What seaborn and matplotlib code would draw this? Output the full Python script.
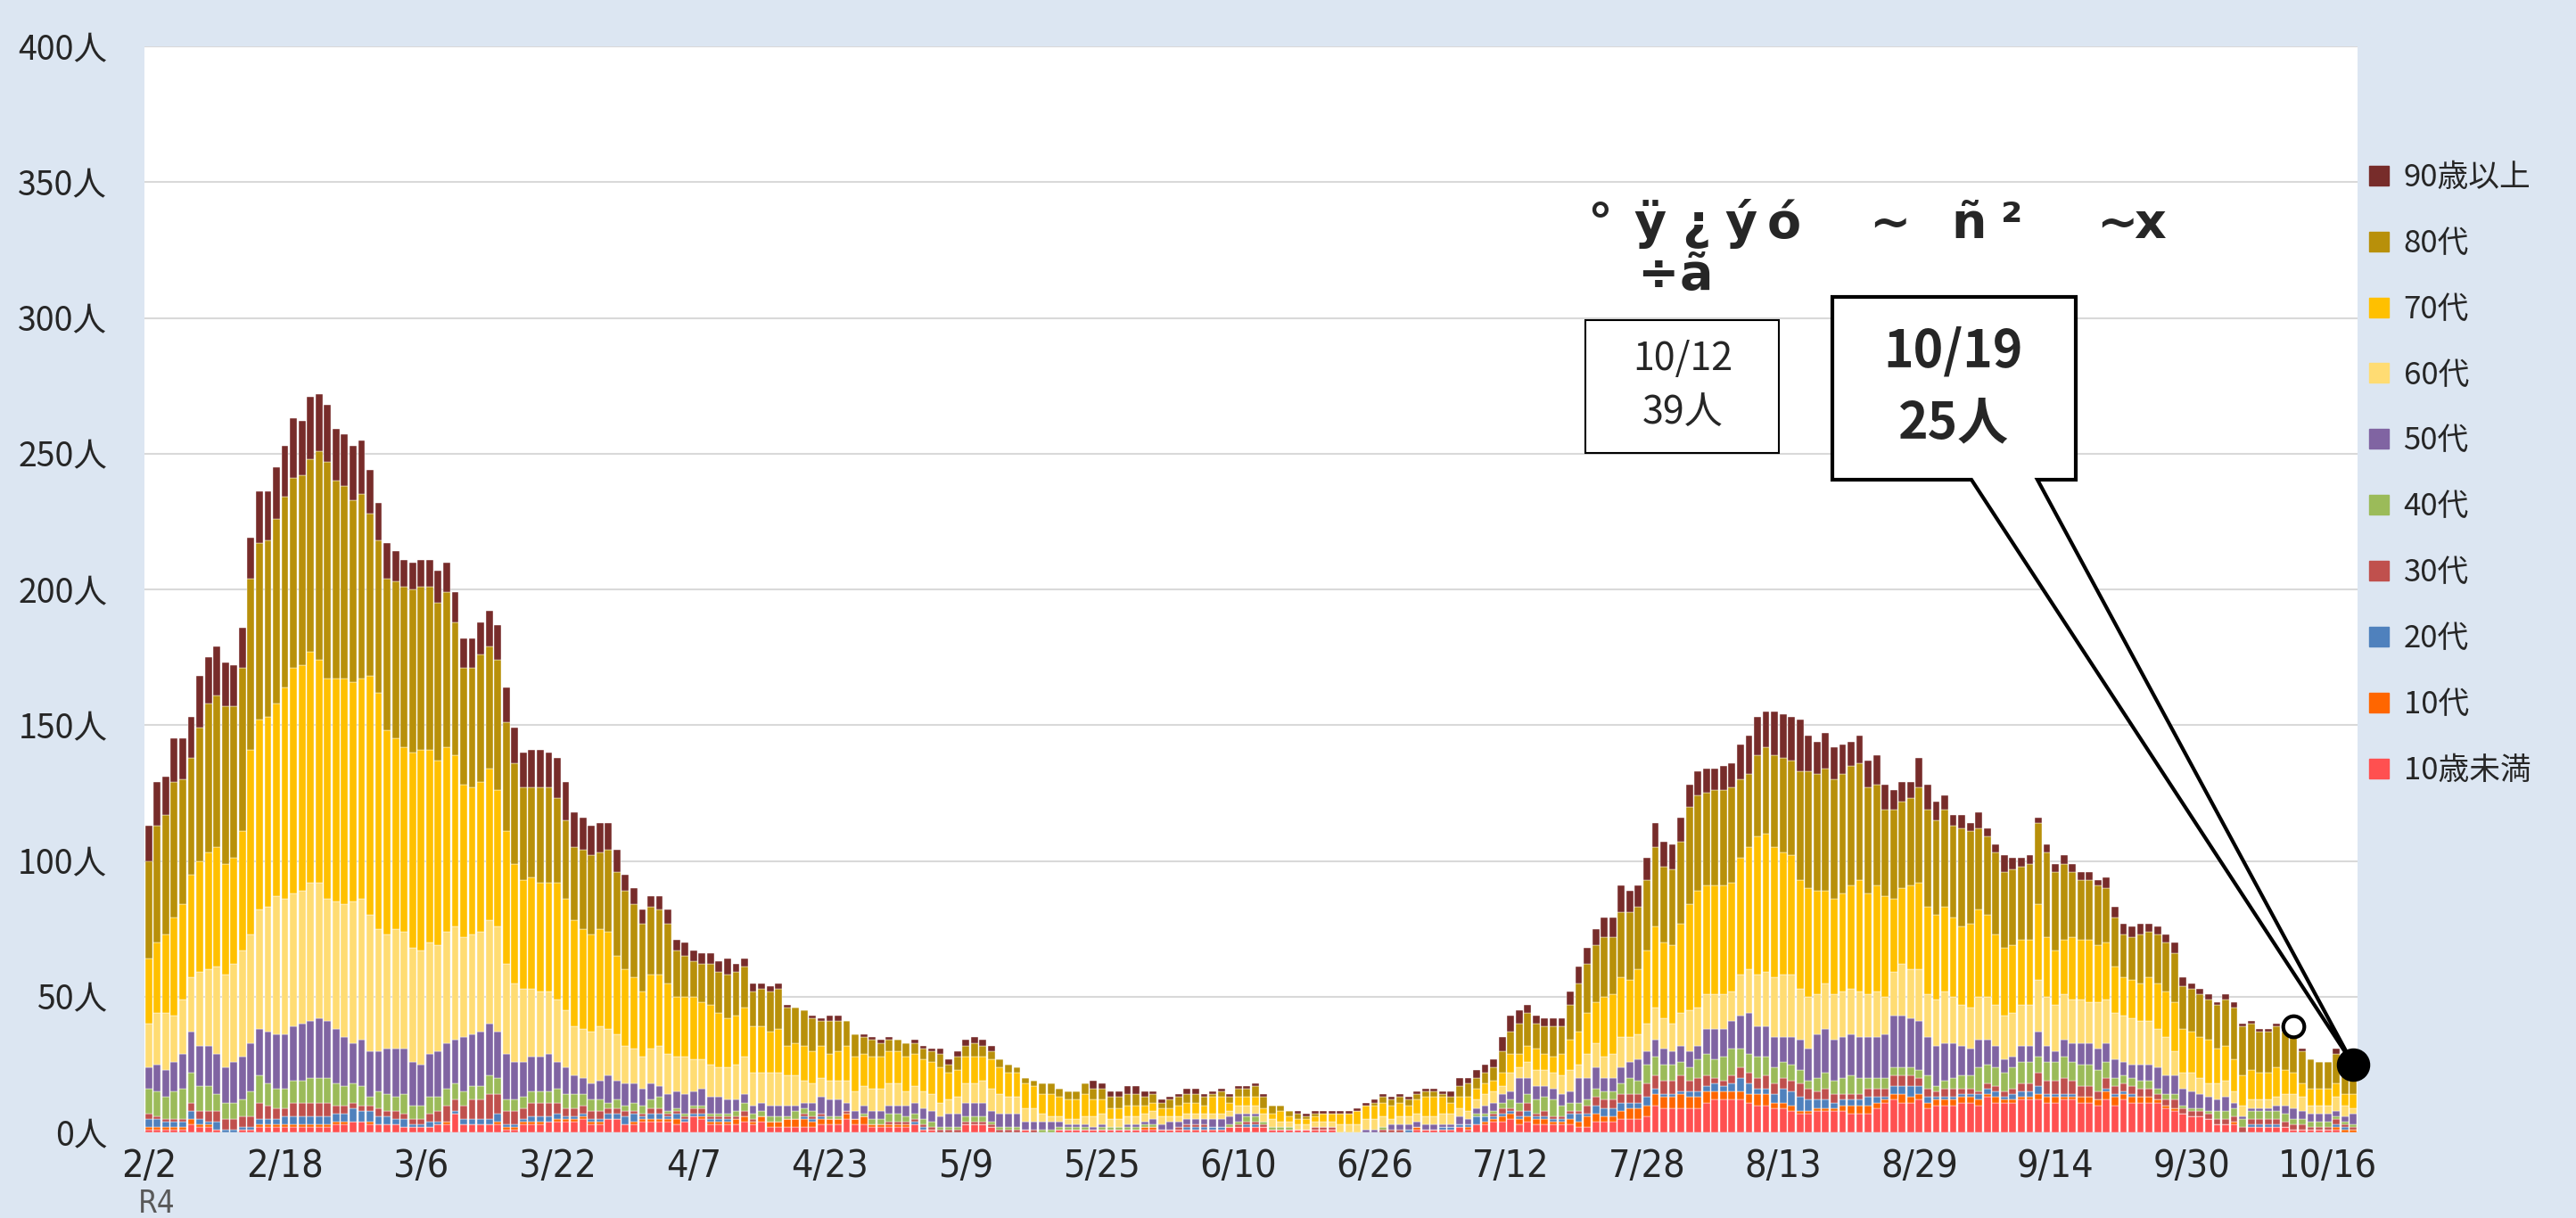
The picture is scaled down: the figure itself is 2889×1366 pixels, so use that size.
import numpy as np
import pandas as pd
import seaborn as sns
import matplotlib.pyplot as plt
from matplotlib import font_manager
from matplotlib.lines import Line2D
from matplotlib.patches import Polygon, Rectangle

# 2/2 (R4) .. 10/19, one bar per day
days = pd.date_range("2022-02-02", "2022-10-19", freq="D")
tick_labels = ["2/2", "2/18", "3/6", "3/22", "4/7", "4/23", "5/9", "5/25", "6/10",
               "6/26", "7/12", "7/28", "8/13", "8/29", "9/14", "9/30", "10/16"]
ytick_values = [0, 50, 100, 150, 200, 250, 300, 350, 400]

ages = ["90歳以上", "80代", "70代", "60代", "50代", "40代", "30代", "20代", "10代", "10歳未満"]
colors = ["#772C2A", "#B8900A", "#FFC000", "#FFDC73", "#8064A2",
          "#9BBB59", "#C0504D", "#4F81BD", "#FF6600", "#FF5050"]

u10 = [1,1,1,1,1,3,2,2,1,0,0,1,1,2,2,2,2,2,2,2,
       2,2,3,3,4,4,3,3,3,3,2,2,2,2,3,3,7,3,3,3,
       3,3,1,1,3,3,3,4,4,4,4,5,3,3,5,5,3,3,4,4,
       4,4,3,4,6,5,3,3,3,3,4,3,4,2,2,2,2,2,2,3,
       3,3,5,3,3,2,2,2,2,2,3,1,1,0,0,0,3,3,3,2,
       0,0,0,1,0,0,0,1,1,1,1,1,1,1,1,1,1,1,1,1,
       1,1,1,1,1,1,1,2,2,2,2,2,1,1,1,1,1,1,1,1,
       0,0,0,0,0,0,0,0,0,1,1,1,1,1,2,1,3,3,4,4,
       5,3,4,3,3,3,3,3,2,2,4,4,4,5,5,5,6,10,9,9,
       9,9,9,11,12,12,12,12,11,10,10,9,9,8,7,7,8,8,8,8,
       7,7,7,9,11,12,11,11,12,9,10,10,10,11,11,10,13,11,11,11,
       12,12,12,11,11,12,12,11,11,10,12,10,12,11,11,11,11,9,8,7,
       6,6,5,3,3,3,0,2,2,2,2,2,1,1,1,1,1,1,0,0]
s10 = [1,1,1,1,1,2,1,1,0,0,0,0,0,1,1,1,1,1,1,1,
       1,1,1,1,0,0,1,0,0,0,0,0,0,0,0,1,0,0,0,0,
       0,1,1,1,1,1,1,0,1,1,1,1,1,1,0,0,0,1,1,1,
       1,1,2,0,0,1,1,1,1,2,2,1,2,2,2,3,3,3,2,2,
       2,2,2,2,3,1,1,1,1,1,0,0,0,0,0,0,0,0,0,0,
       0,0,0,0,0,0,0,0,0,0,0,0,0,0,0,0,0,1,1,0,
       0,0,0,0,0,0,0,0,0,0,0,0,0,0,0,0,0,0,0,0,
       0,0,0,0,0,0,0,0,0,1,0,0,0,0,0,1,0,1,1,2,
       2,2,2,2,2,1,1,2,2,4,3,2,2,3,4,4,4,4,4,4,
       5,4,4,4,3,3,3,3,3,4,4,2,2,2,1,1,1,1,1,2,
       3,3,3,2,1,2,3,2,2,2,2,2,2,2,2,2,1,2,1,1,
       1,1,2,2,2,1,1,2,2,2,3,3,2,2,2,2,1,1,1,0,
       0,0,0,0,0,1,0,0,0,0,0,0,0,0,0,0,0,1,1,1]
s20 = [3,3,2,2,2,3,2,1,3,1,1,1,1,2,2,2,3,3,3,3,
       3,3,3,3,5,4,4,3,3,2,3,1,1,2,1,0,1,2,2,2,
       2,3,1,1,1,2,2,2,2,1,1,1,1,1,2,2,3,3,1,2,
       2,1,2,1,1,1,1,1,1,0,0,0,0,0,0,0,0,1,1,1,
       0,0,0,0,0,0,0,0,0,0,1,1,0,0,0,0,0,0,0,0,
       0,0,0,0,0,0,0,0,0,0,0,0,0,0,0,0,0,0,0,0,
       0,0,1,1,1,1,1,0,0,1,1,0,0,0,0,0,0,0,0,0,
       0,0,0,0,0,0,0,0,1,0,0,0,1,1,1,1,3,2,1,1,
       1,1,2,1,1,1,1,2,3,1,3,3,3,3,2,2,3,2,1,1,
       1,2,2,2,3,2,3,5,4,2,2,3,5,5,5,4,3,3,2,2,
       2,2,3,2,1,3,3,4,3,2,1,1,1,1,1,2,2,2,1,2,
       2,2,3,1,1,1,1,0,0,0,1,1,1,1,0,0,0,0,0,0,
       0,0,0,0,0,0,0,1,1,1,1,0,0,0,0,0,0,1,1,0]
s30 = [2,1,1,1,1,3,3,4,4,4,4,4,4,6,5,4,3,5,5,5,
       5,5,3,3,2,2,2,3,2,3,2,2,2,3,4,6,4,5,7,7,
       9,7,5,5,4,5,5,5,4,3,3,3,3,3,2,2,2,1,1,2,
       2,1,1,1,2,2,1,1,1,1,2,1,0,0,0,0,0,1,1,1,
       0,0,1,0,0,0,0,1,1,1,1,1,1,1,1,1,1,1,1,1,
       1,1,1,0,1,0,0,0,0,0,0,0,0,0,0,0,0,0,0,0,
       0,1,1,1,1,0,0,0,1,1,1,1,0,0,0,0,0,1,1,1,
       0,0,0,0,0,1,1,1,0,0,0,0,0,0,0,0,0,0,1,2,
       1,2,3,1,2,1,1,1,1,3,3,3,3,3,3,3,5,5,5,5,
       6,4,5,4,2,2,3,4,4,4,5,4,4,4,5,4,3,4,3,2,
       2,2,3,3,3,4,4,4,3,3,2,3,3,2,2,1,2,2,2,2,
       3,3,5,5,5,6,5,4,4,3,4,3,3,3,3,3,2,2,3,2,
       2,2,2,2,2,2,2,2,2,2,2,2,2,2,1,1,1,2,1,1]
s40 = [9,9,8,10,11,11,9,9,6,6,6,6,9,10,8,7,7,8,8,9,
       9,9,8,7,7,7,3,6,6,5,7,5,5,6,5,6,6,5,5,5,
       7,6,4,4,4,4,4,4,5,5,5,4,4,4,2,3,2,3,3,3,
       4,1,1,1,1,1,1,1,1,2,3,2,2,2,2,1,3,2,2,0,
       1,1,0,0,1,2,2,3,3,2,2,2,2,1,1,1,2,2,2,1,
       1,1,1,0,0,1,1,1,1,1,1,0,1,1,1,1,1,1,1,0,
       0,0,0,0,0,0,0,1,1,2,2,1,1,1,1,0,0,0,0,0,
       0,0,0,0,0,1,0,0,0,0,0,0,0,0,0,0,1,1,1,2,
       3,3,3,5,5,6,4,3,3,2,3,3,3,4,6,5,7,7,6,6,
       5,5,7,8,7,9,10,7,7,8,7,6,6,6,5,3,5,6,5,6,
       7,6,4,4,4,3,3,3,3,5,2,3,4,5,5,9,7,7,7,8,
       8,8,6,7,7,8,7,8,8,8,6,3,3,3,3,3,2,2,2,1,
       1,1,1,3,3,3,3,3,3,3,3,3,2,2,2,2,2,1,1,1]
s50 = [8,10,10,11,13,15,15,15,15,13,15,16,18,17,19,20,20,20,21,21,
       22,21,20,18,15,17,17,15,17,18,17,16,15,16,17,17,16,20,19,20,
       19,17,17,14,13,13,13,14,10,10,7,6,6,7,10,7,8,7,6,6,
       4,6,6,7,5,6,6,6,5,4,3,3,3,4,4,4,2,2,3,6,
       6,6,3,3,3,3,3,3,3,4,4,4,4,4,5,5,5,5,5,4,
       5,5,5,3,3,3,3,2,1,1,1,1,1,0,0,1,1,1,2,2,
       3,2,2,2,2,3,3,3,3,1,1,0,0,0,0,0,0,0,0,0,
       0,0,0,1,1,0,2,2,2,2,2,2,1,1,3,2,2,3,3,3,
       3,9,6,5,4,4,4,4,9,8,8,5,5,6,6,8,5,6,6,5,
       6,6,5,9,11,10,10,12,15,11,11,11,9,10,11,12,16,16,15,15,
       15,15,15,15,16,19,19,18,18,14,15,14,13,11,10,10,9,8,5,4,
       6,6,9,6,4,6,7,8,8,8,7,7,5,5,6,6,8,7,7,6,
       6,5,5,4,5,2,1,1,1,1,2,3,4,3,3,3,3,2,2,4]
s60 = [16,19,21,17,20,20,27,28,32,34,36,39,40,44,46,51,50,49,49,51,
       50,45,47,49,52,52,50,45,42,44,43,42,42,41,39,41,42,37,37,37,
       38,39,33,29,27,25,24,23,23,21,18,18,19,20,17,17,14,13,12,13,
       15,15,13,14,12,11,12,11,12,13,14,12,11,12,12,11,11,8,7,7,
       7,7,8,7,7,8,8,8,8,5,6,6,6,5,5,6,7,7,8,8,
       7,6,6,5,5,3,2,2,2,2,3,4,4,3,3,3,3,3,3,3,
       2,2,2,2,2,2,2,2,3,3,3,3,3,2,2,2,2,2,2,2,
       3,3,3,4,4,4,2,3,3,3,3,3,4,4,3,3,3,4,4,3,
       7,4,6,6,6,6,7,8,5,9,9,8,9,11,9,9,10,12,11,10,
       12,15,14,13,13,13,11,15,16,19,20,22,23,23,19,19,15,17,17,17,
       17,17,16,17,14,16,19,18,19,16,17,19,17,15,15,16,16,15,16,16,
       15,15,19,18,17,17,16,16,15,17,16,17,17,17,16,16,14,14,9,6,
       7,6,5,6,6,4,4,3,3,3,3,4,5,5,3,3,3,5,4,2]
s70 = [24,26,29,36,35,38,41,43,44,41,39,44,68,70,70,71,78,83,83,85,
       82,81,82,83,81,81,88,87,75,70,68,72,74,71,68,68,63,56,54,55,
       56,50,49,44,40,41,40,40,43,41,39,37,36,36,36,29,28,26,24,27,
       26,26,22,22,23,21,22,20,18,18,18,17,17,15,16,11,12,13,12,12,
       10,11,13,13,12,12,12,12,12,13,12,12,12,13,10,10,10,10,9,11,
       10,9,9,9,8,7,8,7,7,7,8,6,5,4,4,4,4,3,3,3,
       3,4,4,4,3,6,6,3,3,3,3,2,2,4,2,2,2,2,3,3,
       4,4,5,5,5,5,5,5,4,5,7,7,6,4,4,5,4,4,4,5,
       7,5,6,8,6,6,8,11,12,15,15,22,22,22,21,24,27,30,28,29,
       33,39,43,40,40,40,40,43,45,51,51,48,45,44,40,40,38,34,35,36,
       38,41,37,39,37,27,28,31,32,32,31,31,29,29,31,32,30,26,25,25,
       24,24,28,22,20,20,23,22,23,21,21,17,14,14,14,16,17,17,18,16,
       15,15,16,13,13,12,11,11,10,10,11,9,8,5,6,6,6,5,4,5]
s80 = [36,43,44,50,46,43,49,55,56,58,56,60,63,65,65,68,70,70,70,71,
       77,80,73,71,67,68,60,56,56,58,59,60,60,60,58,57,49,43,44,47,
       45,48,40,37,34,33,35,35,31,29,27,29,29,28,30,31,29,27,25,25,
       24,22,17,15,13,14,15,15,16,16,15,13,14,15,15,14,13,13,12,9,
       12,11,9,8,6,6,5,4,4,5,4,4,4,5,3,5,4,5,4,3,
       3,3,2,2,2,4,4,3,3,3,4,4,4,4,4,4,4,3,3,2,
       3,3,3,3,3,1,2,2,3,3,4,4,3,2,2,2,1,1,0,0,
       0,0,0,0,1,2,2,2,2,2,2,2,1,2,4,5,4,4,5,8,
       8,11,12,9,10,11,10,13,18,18,21,22,21,24,25,23,26,29,28,28,
       30,36,35,34,35,35,35,29,27,30,32,34,35,35,40,43,43,45,44,44,
       44,43,39,37,32,33,32,32,35,36,35,36,34,36,34,30,29,30,28,28,
       27,28,30,31,29,28,24,22,22,22,20,18,16,16,18,17,18,18,18,16,
       16,16,15,16,17,19,18,17,15,15,15,14,15,12,11,10,10,11,11,11]
o90 = [13,16,14,16,15,15,19,17,18,16,15,15,15,19,18,19,19,22,20,23,
       21,21,19,19,20,20,16,14,13,11,10,10,10,10,12,11,11,11,11,12,
       13,13,13,13,13,14,14,13,15,14,13,12,11,11,10,8,6,6,5,4,
       5,5,4,5,4,4,4,4,6,3,3,3,2,2,2,1,0,0,1,1,
       2,2,0,0,1,1,1,1,0,0,1,1,1,2,2,2,2,2,2,2,
       0,0,0,0,0,0,0,0,0,0,0,3,2,2,2,3,3,2,1,1,
       1,1,2,2,1,1,1,1,1,1,1,1,0,0,0,1,1,1,1,1,
       1,1,1,1,1,1,1,1,1,1,1,1,1,2,3,2,3,3,3,5,
       6,5,3,3,3,3,3,5,6,6,6,7,7,10,8,8,8,9,9,9,
       9,8,9,9,8,9,9,13,14,14,13,16,16,16,19,13,12,13,12,11,
       9,10,10,11,9,7,7,6,11,9,7,5,4,5,3,6,3,3,6,4,
       3,3,2,3,3,3,3,3,3,2,4,4,4,4,4,3,3,3,4,3,
       2,2,2,1,2,2,1,1,1,1,1,2,2,1,0,0,0,2,1,0]

series = dict(zip(ages, [o90, s80, s70, s60, s50, s40, s30, s20, s10, u10]))
n_days = len(days)
df = pd.DataFrame({
    "day": np.tile(np.arange(n_days), len(ages)),
    "age": np.repeat(ages, n_days),
    "n": np.concatenate([series[a] for a in ages]),
})
total = df.groupby("day")["n"].sum().to_numpy()

W, H = 2889, 1366
BG = "#DCE6F2"


def fig_xy(px, py):
    return px / W, 1 - py / H


sns.set_style("white")
plt.rcParams["font.family"] = ["Noto Sans CJK JP", "DejaVu Sans"]
names = {f.name for f in font_manager.fontManager.ttflist}
narrow = "Liberation Sans Narrow" if "Liberation Sans Narrow" in names else "DejaVu Sans"

fig = plt.figure(figsize=(W / 100, H / 100), dpi=100, facecolor=BG)
ax = fig.add_axes([162 / W, 1 - 1270 / H, (2644 - 162) / W, (1270 - 52) / H])
ax.set_facecolor("white")

sns.histplot(data=df, x="day", weights="n", hue="age", hue_order=ages,
             palette=dict(zip(ages, colors)), multiple="stack", discrete=True,
             shrink=0.82, alpha=1, edgecolor="white", linewidth=0.3,
             legend=False, ax=ax)

ax.set_xlim(-0.5, n_days - 0.5)
ax.set_ylim(0, 400)
ax.set_xlabel("")
ax.set_ylabel("")
ax.set_yticks(ytick_values)
ax.set_yticklabels([f"{v}人" for v in ytick_values], fontsize=27)
ax.set_xticks(np.arange(0, n_days, 16))
ax.set_xticklabels(tick_labels)
for t in ax.get_xticklabels():
    t.set_fontfamily(narrow)
    t.set_fontstretch("condensed")
    t.set_fontsize(31)
ax.tick_params(axis="y", length=0, pad=30)
ax.tick_params(axis="x", length=0, pad=12)
ax.yaxis.grid(True, color="#D9D9D9", lw=1.5)
ax.set_axisbelow(True)
for s in ax.spines.values():
    s.set_visible(False)

fig.text(*fig_xy(176, 1350), "R4", ha="center", va="center", fontsize=25,
         color="#595959", family=narrow, fontstretch="condensed")

# legend in the right margin
handles = [Line2D([], [], marker="s", ls="", color=c, markersize=16) for c in colors]
ax.legend(handles, ages, loc="upper left", bbox_to_anchor=fig_xy(2640, 168),
          bbox_transform=fig.transFigure, frameon=False, fontsize=25,
          labelspacing=1.12, handlelength=0.8, handletextpad=0.4, borderaxespad=0)

# garbled title, as drawn
title1 = [("°", 1780), ("ÿ", 1832), ("¿", 1886), ("ý", 1934), ("ó", 1982),
          ("~", 2096), ("ñ", 2188), ("²", 2244), ("~", 2351), ("x", 2393)]
for ch, px in title1:
    fig.text(*fig_xy(px, 267), ch, fontsize=40, fontweight="bold",
             family="DejaVu Sans", va="baseline", ha="left")
for ch, px in [("÷", 1836), ("ã", 1884)]:
    fig.text(*fig_xy(px, 324), ch, fontsize=40, fontweight="bold",
             family="DejaVu Sans", va="baseline", ha="left")

# 10/12 box and marker
x0, y0 = fig_xy(1778, 508)
fig.patches.append(Rectangle((x0, y0), 217 / W, 149 / H, transform=fig.transFigure,
                             fc="white", ec="black", lw=1.5, zorder=5))
fig.text(*fig_xy(1887, 403), "10/12", ha="center", va="center", fontsize=31, zorder=6)
fig.text(*fig_xy(1887, 463), "39人", ha="center", va="center", fontsize=31, zorder=6)
ax.plot(252, total[252], "o", ms=17, mfc="white", mec="black", mew=3, zorder=10)

# 10/19 callout
tip = fig.transFigure.inverted().transform(ax.transData.transform((n_days - 1, total[-1])))
pts = [fig_xy(2055, 333), fig_xy(2328, 333), fig_xy(2328, 538), fig_xy(2285, 538),
       tuple(tip), fig_xy(2211, 538), fig_xy(2055, 538)]
fig.patches.append(Polygon(pts, closed=True, transform=fig.transFigure, fc="white",
                           ec="black", lw=3, joinstyle="miter", zorder=5))
fig.text(*fig_xy(2191, 395), "10/19", ha="center", va="center", fontsize=41,
         fontweight="bold", zorder=6)
fig.text(*fig_xy(2191, 475), "25人", ha="center", va="center", fontsize=41,
         fontweight="bold", zorder=6)
ax.plot(n_days - 1, total[-1], "o", ms=26, color="black", zorder=10, clip_on=False)

fig.savefig("out.png", dpi=100, facecolor=fig.get_facecolor())
